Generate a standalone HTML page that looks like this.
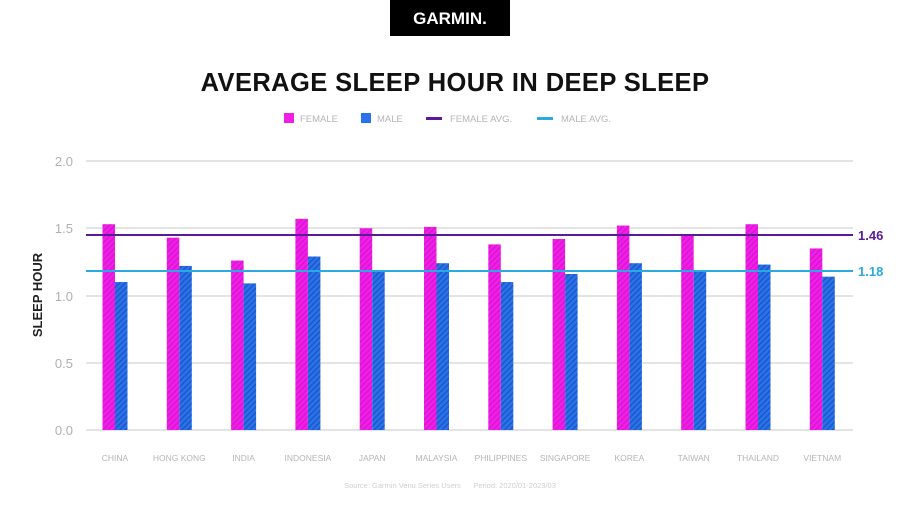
<!DOCTYPE html>
<html><head><meta charset="utf-8"><style>
html,body{margin:0;padding:0;background:#fff;width:900px;height:506px;overflow:hidden}
text{font-family:"Liberation Sans",sans-serif}
</style></head><body>
<svg width="900" height="506" viewBox="0 0 900 506" xmlns="http://www.w3.org/2000/svg">
<defs>
<pattern id="pf" width="4" height="4" patternUnits="userSpaceOnUse" patternTransform="rotate(45)">
<rect width="4" height="4" fill="#f21ee6"/><rect width="1.2" height="4" fill="#d015cf"/></pattern>
<pattern id="pm" width="4" height="4" patternUnits="userSpaceOnUse" patternTransform="rotate(45)">
<rect width="4" height="4" fill="#2a72ea"/><rect width="1.2" height="4" fill="#1a52c0"/></pattern>
</defs>
<rect x="390" y="0" width="120" height="36" fill="#000"/>
<text x="450" y="24" text-anchor="middle" fill="#fff" font-size="17" font-weight="bold">GARMIN.</text>
<text x="455" y="91" text-anchor="middle" fill="#111" font-size="25.5" font-weight="bold" letter-spacing="0.4">AVERAGE SLEEP HOUR IN DEEP SLEEP</text>
<g font-size="9.5" fill="#b5b5b5">
<rect x="284" y="113" width="10" height="10" fill="#f21ee6"/><text x="300" y="122">FEMALE</text>
<rect x="361" y="113" width="10" height="10" fill="#2a72ea"/><text x="377" y="122">MALE</text>
<rect x="426" y="117" width="16" height="3" fill="#5b1a9a"/><text x="450" y="122">FEMALE AVG.</text>
<rect x="537" y="117" width="16" height="3" fill="#2aaae0"/><text x="561" y="122">MALE AVG.</text>
</g>
<g stroke="#dcdcdc" stroke-width="1.5">
<line x1="86" y1="161" x2="853" y2="161"/><line x1="86" y1="228" x2="853" y2="228"/>
<line x1="86" y1="296" x2="853" y2="296"/><line x1="86" y1="363" x2="853" y2="363"/>
<line x1="86" y1="430" x2="853" y2="430"/>
</g>
<g font-size="13" fill="#b0b0b0" text-anchor="end">
<text x="73" y="166">2.0</text><text x="73" y="233">1.5</text><text x="73" y="301">1.0</text>
<text x="73" y="368">0.5</text><text x="73" y="435">0.0</text>
</g>
<text transform="translate(42,295) rotate(-90)" text-anchor="middle" font-size="13" font-weight="bold" fill="#222">SLEEP HOUR</text>
<g id="bars"></g>
<line x1="86" y1="235" x2="853" y2="235" stroke="#5b1a9a" stroke-width="2"/>
<line x1="86" y1="271" x2="853" y2="271" stroke="#2aaae0" stroke-width="2"/>
<text x="858" y="240" font-size="13" font-weight="bold" fill="#5b1a9a">1.46</text>
<text x="858" y="276" font-size="13" font-weight="bold" fill="#2aaae0">1.18</text>
<g id="labels" font-size="8.5" fill="#b5b5b5" text-anchor="middle"></g>
<text x="450" y="488" text-anchor="middle" font-size="7.5" fill="#cfcfcf">Source: Garmin Venu Series Users &#160;&#160;&#160;&#160; Period: 2020/01-2023/03</text>
</svg>
<script>
var f=[1.53,1.43,1.26,1.57,1.50,1.51,1.38,1.42,1.52,1.45,1.53,1.35];
var m=[1.10,1.22,1.09,1.29,1.18,1.24,1.10,1.16,1.24,1.18,1.23,1.14];
var n=["CHINA","HONG KONG","INDIA","INDONESIA","JAPAN","MALAYSIA","PHILIPPINES","SINGAPORE","KOREA","TAIWAN","THAILAND","VIETNAM"];
var b=document.getElementById("bars"),l=document.getElementById("labels"),s="",t="";
for(var i=0;i<12;i++){var c=115+i*64.3;
var hf=f[i]*134.5,hm=m[i]*134.5;
s+='<rect x="'+(c-12.5)+'" y="'+(430-hf)+'" width="12.5" height="'+hf+'" fill="url(#pf)"/>';
s+='<rect x="'+c+'" y="'+(430-hm)+'" width="12.5" height="'+hm+'" fill="url(#pm)"/>';
t+='<text x="'+c+'" y="461">'+n[i]+'</text>';}
b.innerHTML=s;l.innerHTML=t;
</script>
</body></html>
